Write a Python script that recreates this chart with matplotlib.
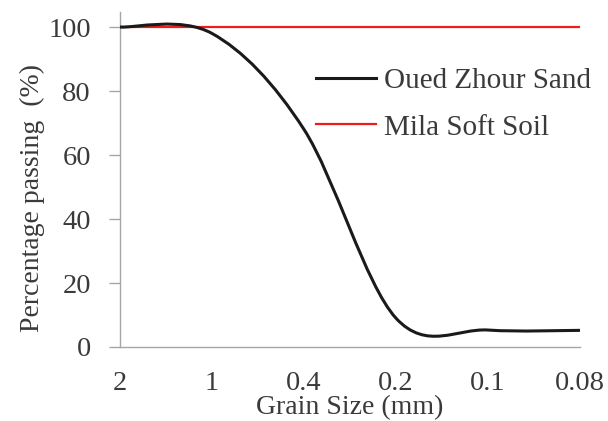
import matplotlib.pyplot as plt
from matplotlib.path import Path
from matplotlib.patches import PathPatch
from matplotlib.lines import Line2D

plt.rcParams['font.family'] = ['Liberation Serif', 'DejaVu Serif']

# grain sizes (mm) used as evenly spaced categories
sizes = ['2', '1', '0.4', '0.2', '0.1', '0.08']
sand = [100, 98, 68, 9, 5.3, 5.2]        # Oued Zhour Sand
soil = [100, 100, 100, 100, 100, 100]    # Mila Soft Soil

text_col = '#3a3a3a'
axis_col = '#a6a6a6'


def smooth_path(ys):
    # cubic bezier through every point, like a spreadsheet "smoothed line"
    pts = [(i, y) for i, y in enumerate(ys)]
    n = len(pts)
    verts = [pts[0]]
    codes = [Path.MOVETO]
    for i in range(n - 1):
        p0 = pts[max(i - 1, 0)]
        p1 = pts[i]
        p2 = pts[i + 1]
        p3 = pts[min(i + 2, n - 1)]
        c1 = (p1[0] + (p2[0] - p0[0]) / 6, p1[1] + (p2[1] - p0[1]) / 6)
        c2 = (p2[0] - (p3[0] - p1[0]) / 6, p2[1] - (p3[1] - p1[1]) / 6)
        verts += [c1, c2, p2]
        codes += [Path.CURVE4] * 3
    return Path(verts, codes)


fig = plt.figure(figsize=(6.08, 4.21), dpi=100)
ax = fig.add_axes([120 / 608, 74 / 421, 460 / 608, 335 / 421])

ax.add_patch(PathPatch(smooth_path(sand), fill=False, edgecolor='#1a1a1a',
                       linewidth=2.2, capstyle='round', zorder=3))
ax.plot(range(len(soil)), soil, color='#ee1c1c', linewidth=1.6, zorder=2)

ax.set_xlim(0, len(sizes) - 1)
ax.set_ylim(0, 104.7)
ax.set_xticks(range(len(sizes)))
ax.set_xticklabels(sizes)
ax.set_yticks([0, 20, 40, 60, 80, 100])

for s in ['top', 'right']:
    ax.spines[s].set_visible(False)
for s in ['left', 'bottom']:
    ax.spines[s].set_color(axis_col)
    ax.spines[s].set_linewidth(1.0)

ax.tick_params(axis='y', length=8, width=1.0, color=axis_col, pad=13,
               labelsize=20.5, labelcolor=text_col)
ax.tick_params(axis='x', length=0, pad=17, labelsize=20.5, labelcolor=text_col)

ax.set_xlabel('Grain Size (mm)', fontsize=20, color=text_col)
ax.set_ylabel('Percentage passing  (%)', fontsize=20, color=text_col)
ax.xaxis.set_label_coords(0.5, -0.18, transform=ax.transAxes)
ax.yaxis.set_label_coords(-0.191, 0.445, transform=ax.transAxes)
ax.xaxis.label.set_verticalalignment('center')
ax.yaxis.label.set_verticalalignment('center')

handles = [Line2D([], [], color='#1a1a1a', linewidth=2.2),
           Line2D([], [], color='#ee1c1c', linewidth=1.6)]
fig.legend(handles, ['Oued Zhour Sand', 'Mila Soft Soil'],
           loc='center left', bbox_to_anchor=(316 / 608, 1 - 104 / 421),
           frameon=False, fontsize=21, handlelength=2.05, handletextpad=0.28,
           labelspacing=0.7, borderpad=0, borderaxespad=0,
           labelcolor=text_col)

fig.savefig('out.png', dpi=100)
